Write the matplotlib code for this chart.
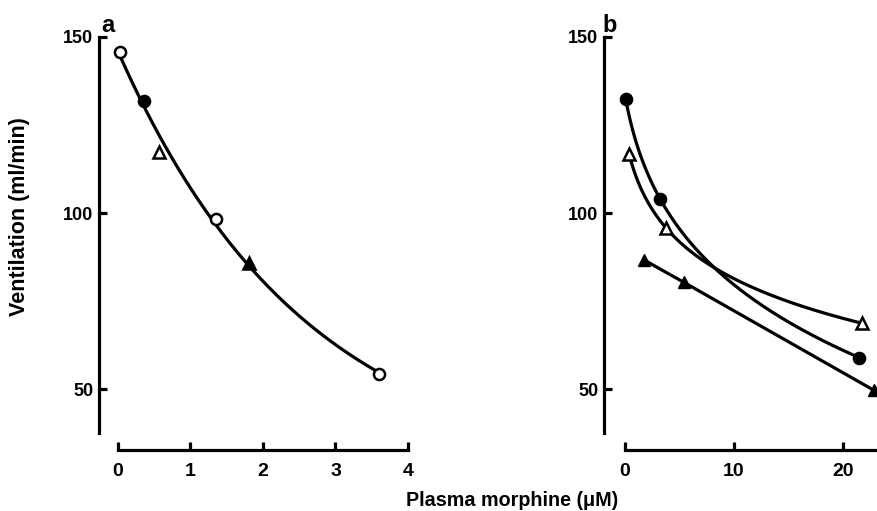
import numpy as np
import matplotlib
matplotlib.use("Agg")
import matplotlib.pyplot as plt

# panel a: one curve, points from different animals
a_x = [0.03, 0.36, 0.56, 1.35, 1.81, 3.60]
a_y = [145.8, 131.9, 117.4, 98.3, 85.7, 54.2]
a_mk = ['o', 'o', '^', 'o', '^', 'o']
a_fill = [False, True, False, False, True, False]

# panel b: three series
b_circ_x = [0.06, 3.2, 21.5]
b_circ_y = [132.4, 104.1, 58.9]
b_otri_x = [0.37, 3.75, 21.7]
b_otri_y = [116.8, 95.8, 68.7]
b_ftri_x = [1.78, 5.4, 22.8]
b_ftri_y = [86.6, 80.3, 49.7]

plt.rcParams['font.family'] = ['Liberation Sans', 'DejaVu Sans']
plt.rcParams['font.weight'] = 'bold'

W, H = 878, 511
fig = plt.figure(figsize=(W / 100, H / 100), dpi=100)

def px_axes(left, top, right, bottom):
    return fig.add_axes([left / W, 1 - bottom / H, (right - left) / W, (bottom - top) / H])

def expfit(xs, ys):
    # y = a + b*exp(-k*x), least squares over a grid of k
    xs = np.asarray(xs)
    ys = np.asarray(ys)
    best = None
    for k in np.linspace(0.01, 3, 600):
        A = np.column_stack([np.ones_like(xs), np.exp(-k * xs)])
        coef, res, _, _ = np.linalg.lstsq(A, ys, rcond=None)
        r = np.sum((A @ coef - ys) ** 2)
        if best is None or r < best[0]:
            best = (r, k, coef)
    _, k, (a, b) = best
    return lambda x: a + b * np.exp(-k * x)

lw = 2.3
ms = 8

def style(ax, xticks, xmax):
    for s in ['top', 'right']:
        ax.spines[s].set_visible(False)
    ax.spines['left'].set_linewidth(lw)
    ax.spines['bottom'].set_linewidth(lw)
    ax.spines['left'].set_bounds(37.5, 150)
    ax.spines['bottom'].set_bounds(0, xmax)
    ax.set_yticks([50, 100, 150])
    ax.set_xticks(xticks)
    ax.tick_params(axis='y', direction='in', length=6, width=lw, pad=4, labelsize=13)
    ax.tick_params(axis='x', direction='in', length=6, width=lw, pad=9, labelsize=14)
    for t in ax.get_xticklabels() + ax.get_yticklabels():
        t.set_fontweight('bold')

# ---- panel a
ax1 = px_axes(99, 25, 420, 450)
ax1.set_xlim((99 - 118) / 72.5, (420 - 118) / 72.5)
ax1.set_ylim(150 - (450 - 37) / 3.52, 150 + (37 - 25) / 3.52)
f = expfit(a_x, a_y)
xx = np.linspace(a_x[0], a_x[-1], 200)
ax1.plot(xx, f(xx), color='black', lw=lw)
for x, y, m, fl in zip(a_x, a_y, a_mk, a_fill):
    ax1.plot(x, y, marker=m, ms=ms, mew=1.8, color='black',
             mfc='black' if fl else 'white', zorder=3)
style(ax1, [0, 1, 2, 3, 4], 4)

# ---- panel b
ax2 = px_axes(604, 25, 878, 450)
ax2.set_xlim((604 - 625) / 10.9, (878 - 625) / 10.9)
ax2.set_ylim(150 - (450 - 37) / 3.52, 150 + (37 - 25) / 3.52)
for xs, ys, m, fl in [(b_circ_x, b_circ_y, 'o', True), (b_otri_x, b_otri_y, '^', False)]:
    u = np.log(np.array(xs) + 1)
    c = np.polyfit(u, ys, 2)
    xx = np.linspace(xs[0], xs[-1], 200)
    ax2.plot(xx, np.polyval(c, np.log(xx + 1)), color='black', lw=lw)
    ax2.plot(xs, ys, ls='none', marker=m, ms=ms, mew=1.8, color='black',
             mfc='black' if fl else 'white', zorder=3)
ax2.plot(b_ftri_x, b_ftri_y, color='black', lw=lw, marker='^', ms=ms, mfc='black')
style(ax2, [0, 10, 20], ax2.get_xlim()[1])

fig.text(101 / W, 1 - 32 / H, 'a', fontsize=17, fontweight='bold', ha='left', va='baseline')
fig.text(602 / W, 1 - 32 / H, 'b', fontsize=17, fontweight='bold', ha='left', va='baseline')

fig.text(20 / W, 1 - 217 / H, 'Ventilation (ml/min)', rotation=90, fontsize=15.5,
         fontweight='bold', ha='center', va='center')
fig.text(512 / W, 1 - 500 / H, 'Plasma morphine (\u03bcM)', fontsize=14.2,
         fontweight='bold', ha='center', va='center')

fig.savefig('out.png', dpi=100)
